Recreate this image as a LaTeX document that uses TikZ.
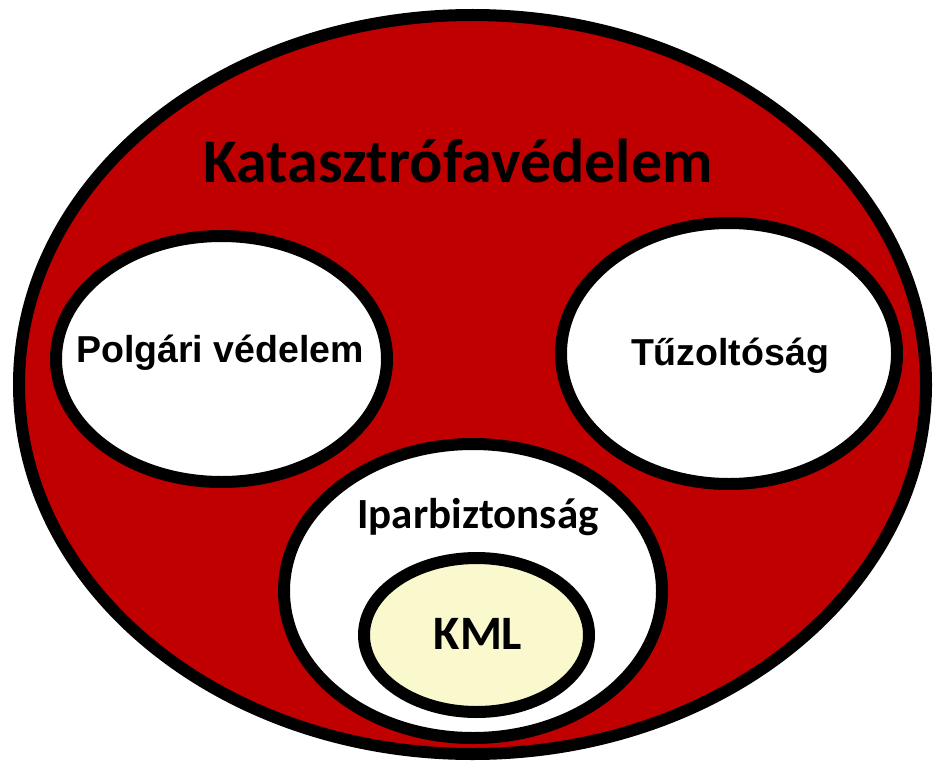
\documentclass[tikz,border=0pt]{standalone}
\usepackage{fontspec}
\setmainfont{Liberation Sans}
\newfontfamily\calibri{Carlito}
\usetikzlibrary{shapes.geometric}
\definecolor{katred}{HTML}{C00000}
\definecolor{kmlyellow}{HTML}{FAF8CD}
\begin{document}
\begin{tikzpicture}[x=1pt,y=-1pt,
  ring/.style={ellipse, draw=black, line width=12pt, inner sep=0pt, outer sep=0pt},
  arialtxt/.style={anchor=base, inner sep=0pt, font=\bfseries\fontsize{37.5}{40}\selectfont},
  calitxt/.style={anchor=base, inner sep=0pt}]
\useasboundingbox[fill=white] (0,0) rectangle (936,765);
\node[ring, fill=katred, minimum width=907pt, minimum height=739pt] (outer) at (472.5,384.5) {};
\node[ring, fill=white, minimum width=331pt, minimum height=246pt] (polg) at (221.5,359) {};
\node[ring, fill=white, minimum width=336pt, minimum height=261pt] (tuz) at (729,353.5) {};
\node[ring, fill=white, minimum width=378pt, minimum height=294pt] (ipar) at (473,591) {};
\node[ring, fill=kmlyellow, minimum width=225pt, minimum height=154pt] (kml) at (476.5,635) {};
\node[calitxt, font=\calibri\bfseries\fontsize{62}{64}\selectfont] (tkat) at (458,182) {Katasztrófavédelem};
\node[arialtxt] (tpolg) at (220,362) {Polgári védelem};
\node[arialtxt] (ttuz) at (730,365) {Tűzoltóság};
\node[calitxt, font=\calibri\bfseries\fontsize{43}{45}\selectfont] (tipar) at (478,528) {Iparbiztonság};
\node[calitxt, font=\calibri\bfseries\fontsize{48}{50}\selectfont] (tkml) at (478,649) {KML};
\end{tikzpicture}
\end{document}
